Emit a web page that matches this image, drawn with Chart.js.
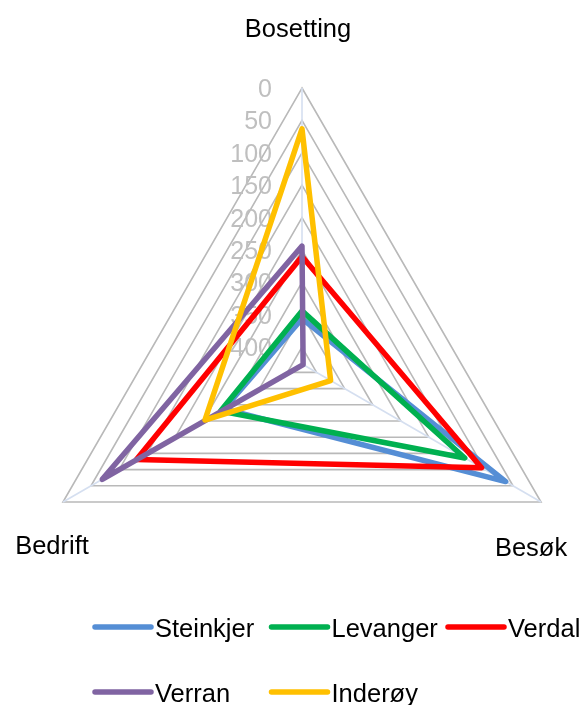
<!DOCTYPE html>
<html>
<head>
<meta charset="utf-8">
<script src="https://cdn.jsdelivr.net/npm/chart.js@4/dist/chart.umd.min.js"></script>
<style>
  html, body { margin: 0; padding: 0; background: #fff; }
  #wrap { position: relative; width: 586px; height: 705px; }
</style>
</head>
<body>
<div id="wrap"><canvas id="chart"></canvas></div>
<script>
// rankings (1 = best), axis runs from 0 on the rim to axisMax in the middle
const categories = ['Bosetting', 'Besøk', 'Bedrift'];
const steinkjer = [356, 63, 287];
const levanger = [344, 136, 281];
const verdal = [260, 106, 131];
const verran = [244, 424, 70];
const inderoy = [63, 375, 253];
const tickValues = [0, 50, 100, 150, 200, 250, 300, 350, 400];
const axisMax = 426;

const seriesNames = ['Steinkjer', 'Levanger', 'Verdal', 'Verran', 'Inderøy'];
const seriesData = [steinkjer, levanger, verdal, verran, inderoy];
const seriesColors = ['#558ed5', '#00b050', '#ff0000', '#8064a2', '#ffc000'];

const FONT = '"Liberation Sans", Arial, sans-serif';

const datasets = seriesNames.map((name, i) => ({
    label: name,
    data: seriesData[i],
    borderColor: seriesColors[i],
    backgroundColor: seriesColors[i],
    borderWidth: 5.5,
    borderJoinStyle: 'round',
    borderCapStyle: 'round',
    pointRadius: 0,
    fill: false,
    tension: 0,
    order: seriesNames.length - i   // later series on top, like Excel
}));

// value labels sit left of the vertical axis, under the lines
const tickLabelPlugin = {
    id: 'tickLabels',
    beforeDatasetsDraw(chart) {
        const s = chart.scales.r;
        const ctx = chart.ctx;
        ctx.save();
        ctx.font = '25px ' + FONT;
        ctx.fillStyle = '#bfbfbf';
        ctx.textAlign = 'right';
        ctx.textBaseline = 'alphabetic';
        tickValues.forEach(v => {
            const y = s.yCenter - s.getDistanceFromCenterForValue(v);
            ctx.fillText(String(v), s.xCenter - 30, y + 9);
        });
        ctx.restore();
    }
};

// category names and legend
const labelPlugin = {
    id: 'labels',
    afterDraw(chart) {
        const s = chart.scales.r;
        const ctx = chart.ctx;
        const offsets = [[-4, -51], [-10, 54], [-11, 52]];
        ctx.save();
        ctx.font = '25.5px ' + FONT;
        ctx.fillStyle = '#000';
        ctx.textAlign = 'center';
        ctx.textBaseline = 'alphabetic';
        categories.forEach((c, i) => {
            const p = s.getPointPosition(i, s.drawingArea);
            ctx.fillText(c, p.x + offsets[i][0], p.y + offsets[i][1]);
        });

        ctx.textAlign = 'left';
        chart.data.datasets.forEach((ds, i) => {
            const x = 95 + (i % 3) * 176.5;
            const y = 627 + Math.floor(i / 3) * 65;
            ctx.strokeStyle = ds.borderColor;
            ctx.lineWidth = 5.5;
            ctx.lineCap = 'round';
            ctx.beginPath();
            ctx.moveTo(x, y);
            ctx.lineTo(x + 56, y);
            ctx.stroke();
            ctx.fillText(ds.label, x + 60, y + 10);
        });
        ctx.restore();
    }
};

new Chart(document.getElementById('chart'), {
    type: 'radar',
    data: { labels: categories, datasets: datasets },
    options: {
        responsive: true,
        maintainAspectRatio: false,
        animation: false,
        layout: { padding: { left: 26, right: 8, top: 88, bottom: 65 } },
        plugins: { legend: { display: false }, tooltip: { enabled: false } },
        scales: {
            r: {
                min: 0,
                max: axisMax,
                reverse: true,
                afterBuildTicks: s => {
                    // centre tick first so the rim (value 0) gets its ring drawn
                    s.ticks = [axisMax].concat(tickValues.slice().reverse()).map(v => ({ value: v }));
                },
                ticks: { display: false },
                grid: { color: '#b9b9b9', lineWidth: 1.6 },
                angleLines: { color: '#d5dff0', lineWidth: 1.6 },
                pointLabels: { display: false }
            }
        }
    },
    plugins: [tickLabelPlugin, labelPlugin]
});
</script>
</body>
</html>
